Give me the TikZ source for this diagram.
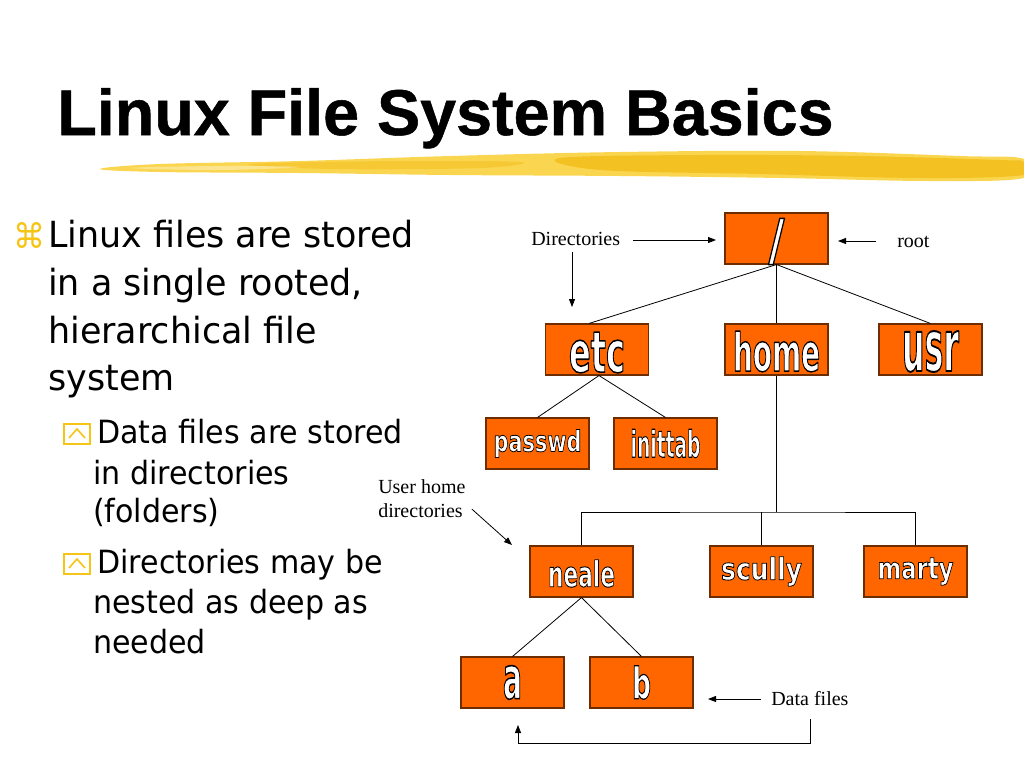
\documentclass[tikz,border=0pt]{standalone}
\usepackage{fontspec}
\usepackage{graphicx}
\usetikzlibrary{arrows.meta,calc}
\setmainfont{Liberation Serif}
\newfontfamily\sansf{Liberation Sans}
\newfontfamily\labelfont{DejaVu Sans}
\newfontfamily\titlefont[FakeBold=0.8]{Liberation Sans Bold}
\newfontfamily\bodyfont[FakeStretch=0.97]{DejaVu Sans}
\newfontfamily\subfont[FakeStretch=0.94]{DejaVu Sans}
\newfontfamily\symfont{DejaVu Sans}
\newlength\pxu \setlength\pxu{0.75pt}
\newcommand\ol[1]{\hbox{\color{white}\special{pdf:literal direct 0 0 0 RG 1 j 0.55 w 2 Tr}#1\special{pdf:literal direct 0 Tr}}}
\newcommand\lbl[4][0]{\raisebox{-#1\pxu}[\height][\depth]{\resizebox{#2\pxu}{#3\pxu}{\ol{\labelfont\bfseries\fontsize{20}{20}\selectfont #4}}}}
\definecolor{boxorange}{RGB}{255,102,0}
\definecolor{boxedge}{RGB}{110,45,0}
\definecolor{bulletyellow}{RGB}{245,196,20}
\definecolor{brushA}{RGB}{250,214,80}
\definecolor{brushB}{RGB}{242,186,20}
\begin{document}
\begin{tikzpicture}[x=0.75pt,y=-0.75pt,
  dirbox/.style={draw=boxedge,fill=boxorange,line width=0.8pt,minimum width=77.25pt,minimum height=38.25pt,inner sep=0pt},
  serifnote/.style={font=\fontsize{15}{15}\selectfont,inner sep=0pt,anchor=base west},
  mainline/.style={font=\bodyfont\fontsize{27}{36}\selectfont,inner sep=0pt,anchor=base west},
  subline/.style={font=\subfont\fontsize{24}{30}\selectfont,inner sep=0pt,anchor=base west},
  subicon/.style={draw=bulletyellow,line width=1.5pt,minimum width=19pt,minimum height=15pt,inner sep=0pt},
  conn/.style={line width=0.6pt},
  arr/.style={line width=0.6pt,-{Triangle[length=6pt,width=4.5pt]}}]
\useasboundingbox (0,0) rectangle (1024,768);
\fill[white] (0,0) rectangle (1024,768);

% brush stroke
\fill[brushA] plot[smooth cycle,tension=0.6] coordinates {(100,169) (160,164) (300,161) (450,156) (620,152) (800,151) (960,156) (1024,159) (1024,178) (930,181) (780,178) (620,176) (450,175) (300,173) (160,172)};
\fill[brushB,opacity=0.75] plot[smooth cycle,tension=0.6] coordinates {(560,158) (700,155) (860,156) (1000,160) (1024,162) (1024,175) (920,178) (760,174) (600,170)};
\fill[brushB,opacity=0.45] plot[smooth cycle,tension=0.6] coordinates {(250,164) (400,161) (520,162) (480,168) (330,169)};
\fill[white,opacity=0.35] plot[smooth cycle,tension=0.6] coordinates {(130,168) (220,166) (300,167) (220,170)};

% title
\node[font=\titlefont\fontsize{48.5}{50}\selectfont,inner sep=0pt,anchor=base west] (title) at (57,135) {Linux File System Basics};

% bullets
\node[inner sep=0pt,text=bulletyellow] (bul1) at (29,235) {\resizebox{32\pxu}{26\pxu}{\symfont ⌘}};
\node[mainline] (m1) at (48,247) {Linux files are stored};
\node[mainline] (m2) at (48,295) {in a single rooted,};
\node[mainline] (m3) at (48,343) {hierarchical file};
\node[mainline] (m4) at (48,390) {system};

\node[subicon] (sb1) at (77,434) {};
\draw[bulletyellow,line width=1.2pt] ($(sb1.center)+(-8,4)$) -- ($(sb1.center)+(0,-5)$) -- ($(sb1.center)+(8,4)$);
\node[subline] (s1) at (97,443) {Data files are stored};
\node[subline] (s2) at (93,484) {in directories};
\node[subline] (s3) at (93,522) {(folders)};
\node[subicon] (sb2) at (77,564) {};
\draw[bulletyellow,line width=1.2pt] ($(sb2.center)+(-8,4)$) -- ($(sb2.center)+(0,-5)$) -- ($(sb2.center)+(8,4)$);
\node[subline] (s4) at (97,573) {Directories may be};
\node[subline] (s5) at (93,613) {nested as deep as};
\node[subline] (s6) at (93,653) {needed};

% tree boxes
\node[dirbox] (root) at (776.5,238.5) {\lbl[3]{16}{41}{/}};
\node[dirbox] (etc) at (597,349.5) {\lbl[3]{56}{40}{etc}};
\node[dirbox] (home) at (776.5,349.5) {\lbl[2]{87}{40}{home}};
\node[dirbox] (usr) at (930.5,349.5) {\lbl[2]{57}{40}{usr}};
\node[dirbox] (passwd) at (537.5,443.5) {\lbl{88}{22}{passwd}};
\node[dirbox] (inittab) at (665.5,443.5) {\lbl{70}{28}{inittab}};
\node[dirbox] (neale) at (581.5,571.5) {\lbl[2]{67}{27}{neale}};
\node[dirbox] (scully) at (761.5,571.5) {\lbl{81}{23}{scully}};
\node[dirbox] (marty) at (915.5,571.5) {\lbl{76}{21}{marty}};
\node[dirbox] (a) at (512.5,682.5) {\lbl{19}{33}{a}};
\node[dirbox] (b) at (641.5,682.5) {\lbl{19}{33}{b}};

% tree connectors
\draw[conn] (root.south) -- ($(etc.north)+(-8,0)$);
\draw[conn] (root.south) -- (home.north);
\draw[conn] (root.south) -- (usr.north);
\draw[conn] ($(etc.south)+(2,0)$) -- (passwd.north);
\draw[conn] ($(etc.south)+(2,0)$) -- (inittab.north);
\coordinate (bus) at (776.5,512);
\draw[conn] (home.south) -- (bus);
\draw[conn] (neale.north) |- (bus) -| (marty.north);
\draw[conn] (scully.north) -- (scully.north |- bus);
\draw[conn] (neale.south) -- (a.north);
\draw[conn] (neale.south) -- (b.north);

% annotations
\node[serifnote] (dirs) at (531,245) {Directories};
\node[serifnote] (rootlbl) at (897,247) {root};
\node[serifnote] (uhd1) at (378,493) {User home};
\node[serifnote] (uhd2) at (378,517) {directories};
\node[serifnote] (df) at (771,705) {Data files};

\coordinate (dirTip) at (716,240);
\coordinate (dirTip2) at (572,307);
\coordinate (rootTip) at (838,241);
\coordinate (uhdTip) at (512,545);
\coordinate (dfTip) at (708,699);
\coordinate (brTip) at (518,725);

\draw[arr] (dirs.east |- dirTip) ++(13,0) -- (dirTip);
\draw[arr] (dirTip2 |- dirs.south) ++(0,7) -- (dirTip2);
\draw[arr] (rootlbl.west |- rootTip) ++(-21,0) -- (rootTip);
\draw[arr] ($(uhd2.east)+(9,-1)$) -- (uhdTip);
\draw[arr] (df.west |- dfTip) ++(-10,0) -- (dfTip);
\draw[arr] ($(df.south)+(1,14)$) -- ++(0,24) -| (brTip);
\end{tikzpicture}
\end{document}
